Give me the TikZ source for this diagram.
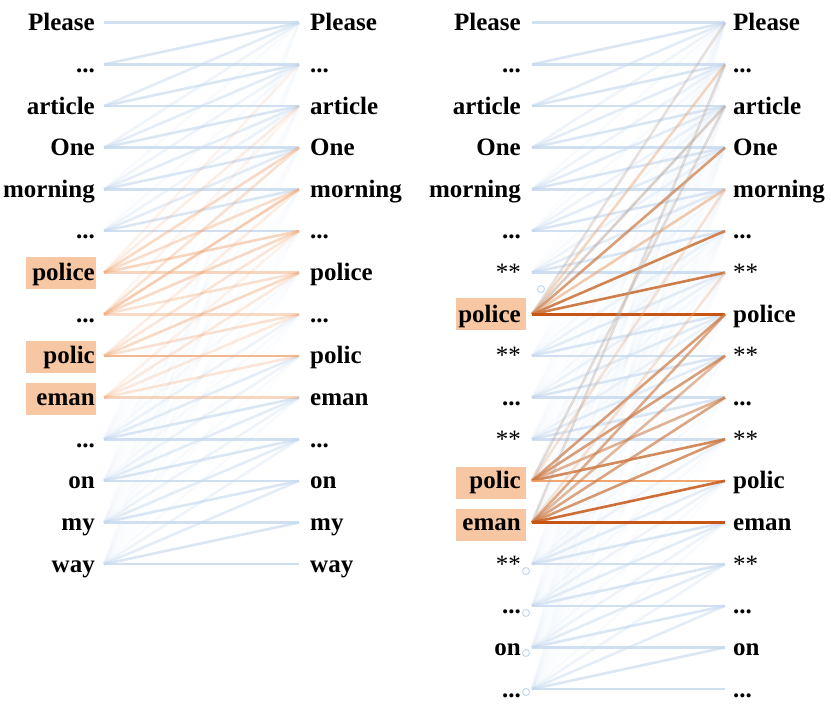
\documentclass[tikz,border=0pt]{standalone}
\usepackage{fontspec}
\setmainfont{Liberation Serif}
\newcommand\mydots{...}
\newcommand\stars{{\mdseries **}}
\definecolor{bluec}{RGB}{196,216,238}
\definecolor{hlc}{RGB}{247,198,163}
\definecolor{pastor}{RGB}{242,172,125}
\definecolor{dk}{RGB}{200,85,20}
\definecolor{brn}{RGB}{205,120,65}
\definecolor{lor}{RGB}{235,170,125}
\definecolor{greyb}{RGB}{185,165,150}
\definecolor{orc}{RGB}{240,155,95}
\begin{document}
\begin{tikzpicture}[x=1pt,y=-1pt,
  lbl/.style={font=\fontsize{25}{29}\selectfont\bfseries, inner sep=0pt},
  lleft/.style={lbl, anchor=base east},
  lright/.style={lbl, anchor=base west},
  hl/.style={fill=hlc, draw=none, minimum width=70pt, minimum height=32pt, inner sep=0pt},
  att/.style={line width=2.6pt},
  attb/.style={att, draw=bluec},
  mark circ/.style={circle, draw=bluec, fill=white, line width=1pt, minimum size=7pt, inner sep=0pt}]
\useasboundingbox (0,0) rectangle (831,718);
% ---------------- left panel ----------------
\node[hl] (hla) at (61,272.5) {};
\node[hl] (hlb) at (61,356.5) {};
\node[hl] (hlc) at (61,398.5) {};
\foreach \t [count=\i from 0] in {Please,\mydots,article,One,morning,\mydots,police,\mydots,polic,eman,\mydots,on,my,way}{
  \pgfmathsetmacro\yy{22.7+41.65*\i}
  \coordinate (A\i) at (104,\yy);
  \coordinate (B\i) at (299,\yy);
  \node[lleft] (la\i) at (95,{\yy+8}) {\t};
  \node[lright] (lb\i) at (310,{\yy+8}) {\t};
}
\foreach \i in {0,1,2,3,4,5,10,11,12,13}{
  \foreach \j in {0,...,\i}{
    \pgfmathsetmacro\op{max(0.06,0.8-0.17*(\i-\j))}
    \draw[attb, draw opacity=\op] (A\i) -- (B\j);
  }
}
\foreach \j/\o in {1/0.15,2/0.2,3/0.45,4/0.4,5/0.5,6/0.5}
  \draw[att, draw=pastor, draw opacity=\o] (A6) -- (B\j);
\foreach \j/\o in {2/0.12,3/0.35,4/0.6,5/0.45,6/0.35,7/0.45}
  \draw[att, draw=pastor, draw opacity=\o] (A7) -- (B\j);
\foreach \j/\o in {4/0.2,5/0.3,6/0.45,7/0.35,8/0.85}
  \draw[att, draw=pastor, draw opacity=\o] (A8) -- (B\j);
\foreach \j/\o in {5/0.15,6/0.25,7/0.25,8/0.3,9/0.5}
  \draw[att, draw=pastor, draw opacity=\o] (A9) -- (B\j);
% ---------------- right panel ----------------
\node[hl] (hld) at (491,314) {};
\node[hl] (hle) at (491,483) {};
\node[hl] (hlf) at (491,525) {};
\foreach \t [count=\i from 0] in {Please,\mydots,article,One,morning,\mydots,\stars,police,\stars,\mydots,\stars,polic,eman,\stars,\mydots,on,\mydots}{
  \pgfmathsetmacro\yy{22.7+41.65*\i}
  \coordinate (C\i) at (532,\yy);
  \coordinate (D\i) at (725,\yy);
  \node[lleft] (lc\i) at (521,{\yy+8}) {\t};
  \node[lright] (ld\i) at (733,{\yy+8}) {\t};
}
\foreach \i in {0,...,6,8,9,10,13,14,15,16}{
  \foreach \j in {0,...,\i}{
    \pgfmathsetmacro\op{max(0.06,0.8-0.17*(\i-\j))}
    \draw[attb, draw opacity=\op] (C\i) -- (D\j);
  }
}
\foreach \i in {7,11,12}{
  \foreach \j in {0,...,\i}{
    \draw[attb, draw opacity=0.08] (C\i) -- (D\j);
  }
}
\foreach \j/\c/\o in {0/greyb/0.3,1/lor/0.45,2/greyb/0.5,3/brn/0.7,4/lor/0.6,5/brn/0.9,6/brn/0.95,7/dk/1}
  \draw[att, draw=\c, draw opacity=\o] (C7) -- (D\j);
\foreach \j/\c/\o in {2/greyb/0.35,4/lor/0.3,7/brn/0.7,8/brn/0.7,9/brn/0.55,10/brn/0.85,11/orc/0.9}
  \draw[att, draw=\c, draw opacity=\o] (C11) -- (D\j);
\foreach \j/\c/\o in {1/greyb/0.35,6/lor/0.3,7/brn/0.6,8/brn/0.5,9/brn/0.65,10/brn/0.75,11/dk/0.85,12/dk/1}
  \draw[att, draw=\c, draw opacity=\o] (C12) -- (D\j);
\node[mark circ] (m0) at (541,289) {};
\node[mark circ] (m1) at (526,571) {};
\node[mark circ] (m2) at (526,613) {};
\node[mark circ] (m3) at (526,653) {};
\node[mark circ] (m4) at (526,692) {};
\end{tikzpicture}
\end{document}
